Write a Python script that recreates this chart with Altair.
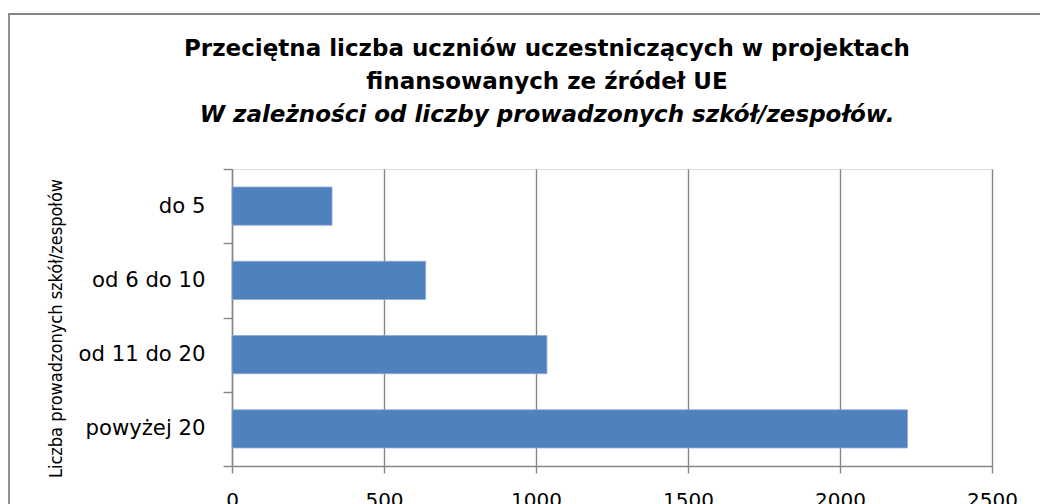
import altair as alt
import pandas as pd

categories = ["do 5", "od 6 do 10", "od 11 do 20", "powyżej 20"]
values = [329, 637, 1036, 2222]
x_ticks = [0, 500, 1000, 1500, 2000, 2500]

title_lines = ["Przeciętna liczba uczniów uczestniczących w projektach",
               "finansowanych ze źródeł UE"]
subtitle_line = "W zależności od liczby prowadzonych szkół/zespołów."
y_title = "Liczba prowadzonych szkół/zespołów"

df = pd.DataFrame({"kat": categories, "val": values})

GRAY = "#868686"

bars = alt.Chart(df).mark_bar(
    color="#4F81BD", stroke="#8fabd6", strokeWidth=0.8,
    height={"band": 0.514}
).encode(
    x=alt.X("val:Q",
            scale=alt.Scale(domain=[0, 2500], nice=False),
            axis=alt.Axis(values=x_ticks, title=None, grid=True, format="d",
                          gridColor=GRAY, gridWidth=1.4,
                          domainColor=GRAY, domainWidth=1.4,
                          tickColor=GRAY, tickWidth=1.4, tickSize=7,
                          labelFont="DejaVu Sans", labelFontSize=20,
                          labelColor="#000000", labelPadding=17,
                          labelBaseline="top", labelFlush=False)),
    y=alt.Y("kat:N", sort=categories,
            scale=alt.Scale(paddingInner=0, paddingOuter=0),
            axis=alt.Axis(title=y_title, grid=False, tickBand="extent",
                          domainColor=GRAY, domainWidth=1.4,
                          tickColor=GRAY, tickWidth=1.4, tickSize=9,
                          labelFont="DejaVu Sans", labelFontSize=21.2,
                          labelColor="#000000", labelPadding=18,
                          titleFont="DejaVu Sans Condensed, Liberation Sans Narrow, DejaVu Sans",
                          titleFontSize=18, titleFontWeight="normal",
                          titleColor="#000000", titleAngle=-90,
                          titleAlign="center", titleBaseline="middle",
                          titleX=-176, titleY=159)),
)

frame = alt.Chart(alt.Data(values=[{"a": 1}])).mark_rect(
    fill=None, stroke=GRAY, strokeWidth=1.8, clip=False
).encode(
    x=alt.value(-223), x2=alt.value(900),
    y=alt.value(-155), y2=alt.value(400),
)

chart = alt.layer(frame, bars).properties(
    width=760, height=297,
    autosize=alt.AutoSizeParams(type="none"),
    padding={"left": 224, "top": 161, "right": 48, "bottom": 46},
    title=alt.TitleParams(
        text=title_lines, subtitle=subtitle_line,
        anchor="middle", dx=-65, offset=-114,
        font="DejaVu Sans", fontSize=23, fontWeight="bold", color="#000000",
        lineHeight=33.5,
        subtitleFont="DejaVu Sans", subtitleFontSize=23,
        subtitleFontWeight="bold", subtitleFontStyle="italic",
        subtitleColor="#000000", subtitleLineHeight=33.5, subtitlePadding=10,
    ),
).configure_view(stroke=None).configure(background="#ffffff")

chart.save("out.html", embed_options={"renderer": "svg", "actions": False})
